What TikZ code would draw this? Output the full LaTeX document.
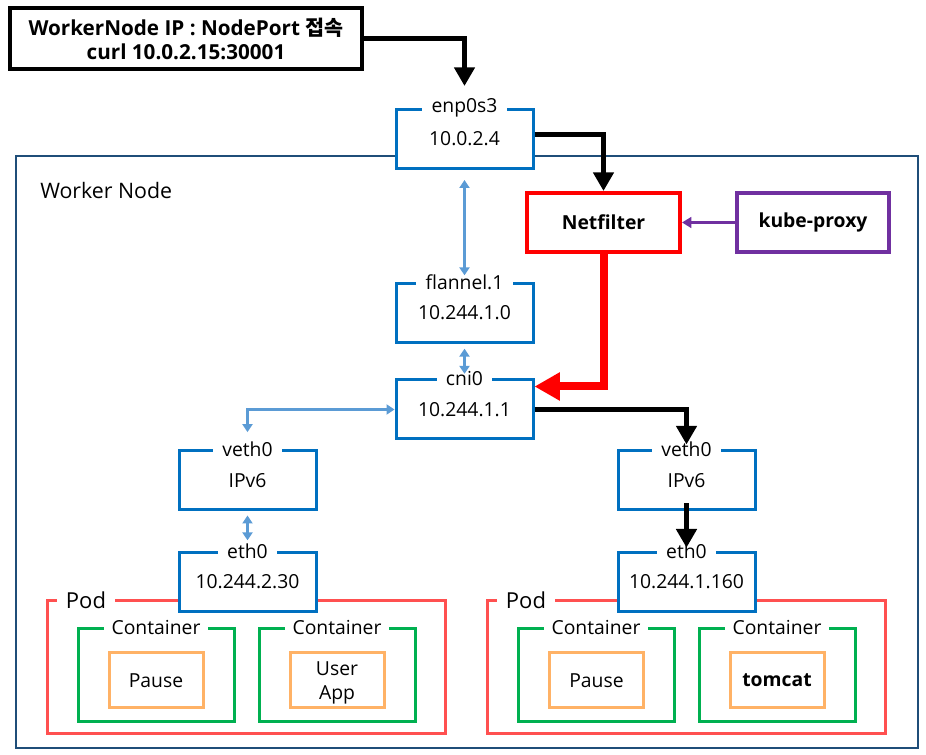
\documentclass[tikz,border=0pt]{standalone}
\usepackage{fontspec}
\setmainfont{Open Sans}
\newfontfamily\kr{Noto Sans CJK KR}
\usetikzlibrary{arrows.meta,calc}
\definecolor{ifblue}{HTML}{0070C0}
\definecolor{ltblue}{HTML}{5B9BD5}
\definecolor{outerblue}{HTML}{1F4E79}
\definecolor{nfred}{HTML}{FF0000}
\definecolor{kpurple}{HTML}{7030A0}
\definecolor{podred}{HTML}{FF5050}
\definecolor{cgreen}{HTML}{00B050}
\definecolor{corange}{HTML}{FFB266}
\tikzset{
  txt/.style={font=\fontsize{14.5}{18}\selectfont},
  ifbox/.style={txt,draw=ifblue,line width=2.25pt,fill=white,minimum width=102.75pt,minimum height=44.25pt,inner sep=0pt},
  edgelbl/.style={txt,fill=white,inner xsep=7pt,inner ysep=1pt},
  podbox/.style={draw=podred,line width=2.25pt,minimum width=298.5pt,minimum height=99.75pt,inner sep=0pt},
  conbox/.style={draw=cgreen,line width=2.25pt,minimum width=117pt,minimum height=69.75pt,inner sep=0pt},
  appbox/.style={txt,draw=corange,line width=2.25pt,minimum width=70.5pt,minimum height=41.25pt,inner sep=0pt,align=center},
  boldtxt/.style={font=\fontsize{14.5}{18}\selectfont\bfseries},
  blackarr/.style={line width=3.75pt,-{Triangle[width=15pt,length=14pt]}},
  redarr/.style={draw=nfred,line width=6pt,-{Triangle[width=20pt,length=19pt]},color=nfred},
  purarr/.style={draw=kpurple,color=kpurple,line width=2.25pt,-{Triangle[width=8pt,length=7pt]}},
  bluearr/.style={draw=ltblue,color=ltblue,line width=1.7pt,{Triangle[width=7.5pt,length=6pt]}-{Triangle[width=7.5pt,length=6pt]}},
}
\begin{document}
\begin{tikzpicture}[x=0.75pt,y=-0.75pt]
\useasboundingbox (0,0) rectangle (926,755);
% outer worker node
\draw[draw=outerblue,line width=1.9pt] (16,156) rectangle (918,748);
\node[font=\fontsize{16}{19}\selectfont,anchor=west,inner sep=0pt] (wn) at (40,191) {Worker Node};
% top box
\node[draw=black,line width=2.6pt,minimum width=264pt,minimum height=45.75pt,inner sep=0pt,align=center,font=\fontsize{15.5}{18}\selectfont\bfseries] (top) at (186,38.5) {WorkerNode IP : NodePort {\kr\bfseries 접속}\\curl 10.0.2.15:30001};
% pods
\node[podbox] (podL) at (246,667.5) {};
\node[edgelbl,font=\fontsize{16.5}{19}\selectfont] (podLl) at (86,600) {Pod};
\node[podbox] (podR) at (686.5,667.5) {};
\node[edgelbl,font=\fontsize{16.5}{19}\selectfont] (podRl) at (526,600) {Pod};
% containers
\node[conbox] (cL1) at (156,675.5) {};
\node[conbox] (cL2) at (337,675.5) {};
\node[conbox] (cR1) at (596,675.5) {};
\node[conbox] (cR2) at (777,675.5) {};
\foreach \n in {cL1,cL2,cR1,cR2}{\node[edgelbl,inner xsep=6pt] at (\n.north) {Container};}
\node[appbox] (pL) at (156,680.5) {Pause};
\node[appbox] (uL) at (337,680.5) {};
\node[txt,align=center,font=\fontsize{14.5}{18.5}\selectfont,inner sep=0pt] (uLt) at (337,683) {User\\App};
\node[appbox] (pR) at (596.5,680.5) {Pause};
\node[appbox,boldtxt] (tR) at (777,680.5) {tomcat};
% interface boxes
\node[ifbox] (enp) at (464.5,139) {10.0.2.4};
\node[edgelbl] (enpl) at (enp.north) {enp0s3};
\node[ifbox] (fl) at (464.5,313) {10.244.1.0};
\node[edgelbl] (fll) at (fl.north) {flannel.1};
\node[ifbox] (cni) at (464.5,409.5) {10.244.1.1};
\node[edgelbl] (cnil) at (cni.north) {cni0};
\node[ifbox] (vL) at (247.5,480.5) {IPv6};
\node[edgelbl] (vLl) at (vL.north) {veth0};
\node[ifbox] (eL) at (247.5,582) {10.244.2.30};
\node[edgelbl] (eLl) at (eL.north) {eth0};
\node[ifbox] (vR) at (686.5,480.5) {IPv6};
\node[edgelbl] (vRl) at (vR.north) {veth0};
\node[ifbox] (eR) at (686.5,582) {10.244.1.160};
\node[edgelbl] (eRl) at (eR.north) {eth0};
% netfilter / kube-proxy
\node[boldtxt,draw=nfred,line width=3pt,minimum width=114.75pt,minimum height=44.25pt,inner sep=0pt] (nf) at (603.5,222.5) {Netfilter};
\node[boldtxt,draw=kpurple,line width=3pt,minimum width=114pt,minimum height=44.25pt,inner sep=0pt] (kp) at (813,222.5) {kube-proxy};
% connectors
\draw[blackarr,shorten >=16.5pt] (top.east) -| (enp.north);
\draw[blackarr] ($(enp.east)+(0,-4)$) -| (nf.north);
\draw[purarr] (kp.west) -- (nf.east);
\draw[bluearr,shorten <=7.5pt,shorten >=5pt] (enp.south) -- (fl.north);
\draw[bluearr,shorten <=3.5pt,shorten >=3.5pt] (fl.south) -- (cni.north);
\draw[redarr] (nf.south) |- ($(cni.east)+(0,-23)$);
\draw[blackarr,shorten >=3.75pt] (cni.east) -| (vR.north);
\draw[bluearr,shorten >=13pt] (cni.west) -| (vL.north);
\draw[bluearr,shorten <=3pt,shorten >=8pt] (vL.south) -- (eL.north);
\draw[blackarr,shorten <=-6pt,shorten >=2.5pt] (vR.south) -- (eR.north);
\end{tikzpicture}
\end{document}
